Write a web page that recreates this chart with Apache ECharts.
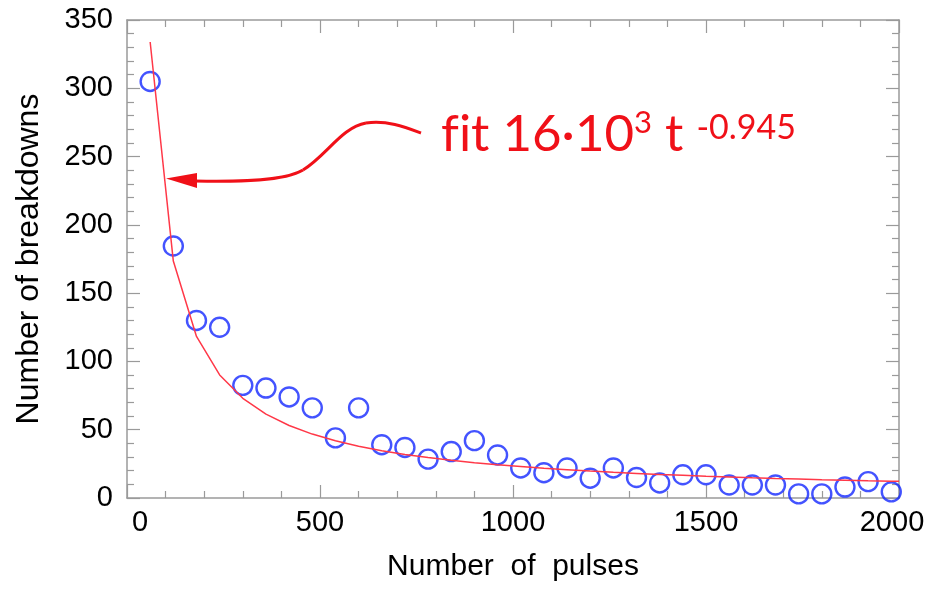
<!DOCTYPE html>
<html>
<head>
<meta charset="utf-8">
<script src="https://cdn.jsdelivr.net/npm/echarts@6/dist/echarts.min.js"></script>
<style>
html,body{margin:0;padding:0;background:#fff;}
#chart{width:937px;height:590px;}
</style>
</head>
<body>
<div id="chart"></div>
<script>
// Measured data (number of pulses vs. number of breakdowns)
var pulses = [60,120,180,240,300,360,420,480,540,600,660,720,780,840,900,960,1020,1080,1140,1200,1260,1320,1380,1440,1500,1560,1620,1680,1740,1800,1860,1920,1980];
var breakdowns = [305,184.5,130,125,82.5,80.5,74,66,44,66,39,37,28.5,34,42,31.5,22,18.5,22,14.5,22,15,11,17,17,9.5,9.5,9.5,3,3,8,12,4.5];
// Fit curve as drawn
var fitX = [60,120,180,240,300,360,420,480,540,600,660,720,780,840,900,960,1020,1080,1140,1200,1260,1320,1380,1440,1500,1560,1620,1680,1740,1800,1860,1920,1980,2000];
var fitY = [333.9,173.5,118.3,90.1,73.0,61.4,53.1,46.8,41.9,37.9,34.6,31.9,29.6,27.6,25.8,24.3,23.0,21.7,20.7,19.7,18.8,18.0,17.2,16.6,15.9,15.4,14.8,14.3,13.9,13.4,13.0,12.6,12.3,12.2];
var xTicks = [0,500,1000,1500,2000];
var yTicks = [0,50,100,150,200,250,300,350];
var xTitle = 'Number  of  pulses';
var yTitle = 'Number of breakdowns';

var chart = echarts.init(document.getElementById('chart'));
var axisColor = '#9a9a9a';
var tickFont = 'Liberation Sans, Arial, Helvetica, sans-serif';
var red = '#f01018';
var annFont = 'Lato, Open Sans, sans-serif';

function xAx(pos, labels) {
  return {
    type: 'value', position: pos, min: xTicks[0], max: xTicks[xTicks.length-1], interval: 500,
    axisLine: {show: true, onZero: false, lineStyle: {color: axisColor, width: 1.5}},
    axisTick: {show: true, inside: true, length: 13, lineStyle: {color: axisColor, width: 1.2}},
    minorTick: {show: true, splitNumber: 5, length: 7, lineStyle: {color: axisColor, width: 1.2}},
    splitLine: {show: false},
    axisLabel: {
      show: labels, color: '#000', fontSize: 29, fontFamily: tickFont, margin: 10,
      formatter: function (v) {
        if (v === xTicks[0]) return '{l|' + v + '}';
        if (v === xTicks[xTicks.length-1]) return '{r|' + v + '}';
        return '{n|' + v + '}';
      },
      rich: {
        l: {fontSize: 29, fontFamily: tickFont, color: '#000', padding: [0,0,0,26]},
        r: {fontSize: 29, fontFamily: tickFont, color: '#000', padding: [0,14,0,0]},
        n: {fontSize: 29, fontFamily: tickFont, color: '#000'}
      }
    },
    name: labels ? xTitle : '', nameLocation: 'middle', nameGap: 54,
    nameTextStyle: {color: '#000', fontSize: 30, fontFamily: tickFont}
  };
}
function yAx(pos, labels) {
  return {
    type: 'value', position: pos, min: yTicks[0], max: yTicks[yTicks.length-1], interval: 50,
    axisLine: {show: true, onZero: false, lineStyle: {color: axisColor, width: 1.5}},
    axisTick: {show: true, inside: true, length: 13, lineStyle: {color: axisColor, width: 1.2}},
    minorTick: {show: true, splitNumber: 5, length: 7, lineStyle: {color: axisColor, width: 1.2}},
    splitLine: {show: false},
    axisLabel: {show: labels, color: '#000', fontSize: 29, fontFamily: tickFont, margin: 14},
    name: labels ? yTitle : '', nameLocation: 'middle', nameGap: 82,
    nameTextStyle: {color: '#000', fontSize: 32, fontFamily: tickFont}
  };
}

var option = {
  backgroundColor: '#fff',
  animation: false,
  grid: {left: 127, right: 38, top: 20, bottom: 92, containLabel: false},
  xAxis: [xAx('bottom', true), xAx('top', false)],
  yAxis: [yAx('left', true), yAx('right', false)],
  series: [
    {
      type: 'scatter', xAxisIndex: 0, yAxisIndex: 0,
      data: pulses.map(function (p, i) { return [p, breakdowns[i]]; }),
      symbol: 'circle', symbolSize: 19,
      itemStyle: {color: 'rgba(0,0,0,0)', borderColor: '#1428ff', borderWidth: 2.4},
      z: 2
    },
    {
      type: 'line', xAxisIndex: 0, yAxisIndex: 0,
      data: fitX.map(function (p, i) { return [p, fitY[i]]; }),
      showSymbol: false, symbol: 'none',
      lineStyle: {color: '#ff3848', width: 1.5},
      z: 3
    }
  ],
  graphic: [
    {type: 'bezierCurve', z: 10, shape: {x1: 421, y1: 133, cpx1: 405, cpy1: 127, cpx2: 387, cpy2: 120, x2: 366, y2: 123},
     style: {fill: null, stroke: red, lineWidth: 3}},
    {type: 'bezierCurve', z: 10, shape: {x1: 366, y1: 123, cpx1: 342, cpy1: 127, cpx2: 326, cpy2: 156, x2: 303, y2: 170},
     style: {fill: null, stroke: red, lineWidth: 3}},
    {type: 'bezierCurve', z: 10, shape: {x1: 303, y1: 170, cpx1: 285, cpy1: 181, cpx2: 240, cpy2: 182, x2: 195, y2: 181},
     style: {fill: null, stroke: red, lineWidth: 3}},
    {type: 'polygon', z: 10, shape: {points: [[166,178.5],[197,173],[197,188]]}, style: {fill: red}},
    {
      type: 'text', z: 10, left: 441, top: 104,
      style: {
        text: '{m|f\u200Cit 16·10}{s|3}{m| t }{e|-0.945}',
        fill: red,
        rich: {
          m: {fontSize: 51, fontFamily: annFont, fill: red, verticalAlign: 'bottom', lineHeight: 56},
          s: {fontSize: 31, fontFamily: annFont, fill: red, verticalAlign: 'top', lineHeight: 56, padding: [3,0,0,0]},
          e: {fontSize: 34, fontFamily: annFont, fill: red, verticalAlign: 'top', lineHeight: 52, padding: [7,0,0,0]}
        }
      }
    }
  ]
};
chart.setOption(option);
</script>
</body>
</html>
